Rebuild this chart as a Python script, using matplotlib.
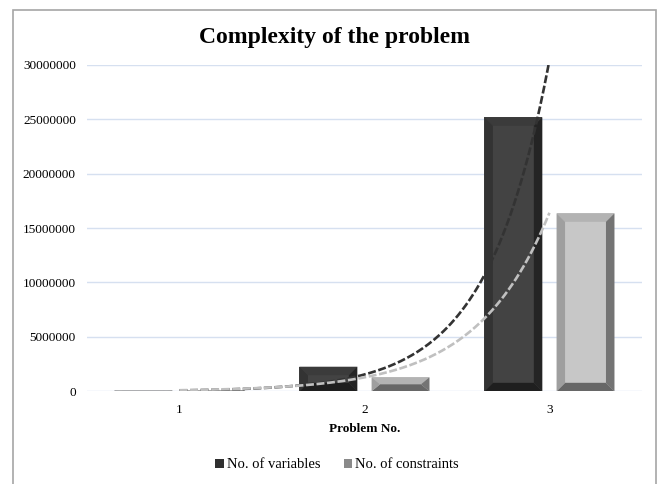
import numpy as np
import matplotlib
matplotlib.use('Agg')
import matplotlib.pyplot as plt
from matplotlib.patches import Polygon, Patch, Rectangle

plt.rcParams['font.family'] = ['Liberation Serif', 'DejaVu Serif']

problems = [1, 2, 3]
tick_labels = ['1', '2', '3']
n_variables = [65000, 2260000, 25170000]
n_constraints = [100000, 1290000, 16350000]

var_colors = dict(face='#434343', top='#3b3b3b', left='#333333', right='#242424', bottom='#1f1f1f')
con_colors = dict(face='#c7c7c7', top='#b3b3b3', left='#9f9f9f', right='#747474', bottom='#676767')

fig = plt.figure(figsize=(6.62, 4.84), dpi=100)
ax = fig.add_axes([0.1314, 0.1915, 0.8383, 0.6748])
ax.set_xlim(0.5, 3.5)
ax.set_ylim(0, 30000000)

# pixel size of the bevel converted to data units
ax_w_px = 0.8383 * 662
ax_h_px = 0.6748 * 484
bev_px = 8.5
bev_x = bev_px * 3.0 / ax_w_px
bev_y = bev_px * 30000000 / ax_h_px


def bevel_bars(xs, heights, width, colors):
    bars = ax.bar(xs, heights, width=width, color=colors['face'], zorder=2)
    for rect in bars:
        x0, y0 = rect.get_x(), rect.get_y()
        x1, y1 = x0 + rect.get_width(), y0 + rect.get_height()
        bx = min(bev_x, (x1 - x0) / 2)
        by = min(bev_y, (y1 - y0) / 2)
        faces = {
            'top': [(x0, y1), (x1, y1), (x1 - bx, y1 - by), (x0 + bx, y1 - by)],
            'bottom': [(x0, y0), (x1, y0), (x1 - bx, y0 + by), (x0 + bx, y0 + by)],
            'left': [(x0, y0), (x0 + bx, y0 + by), (x0 + bx, y1 - by), (x0, y1)],
            'right': [(x1, y0), (x1 - bx, y0 + by), (x1 - bx, y1 - by), (x1, y1)],
        }
        for side, pts in faces.items():
            ax.add_patch(Polygon(pts, closed=True, facecolor=colors[side],
                                 edgecolor='none', zorder=3))


bar_w = 0.313
offset = 0.195
x = np.array(problems, dtype=float)
bevel_bars(x - offset, n_variables, bar_w, var_colors)
bevel_bars(x + offset, n_constraints, bar_w, con_colors)

# exponential trendlines (least squares on log values)
xt = np.linspace(1, 3, 200)
for vals, col in [(n_variables, '#333333'), (n_constraints, '#c0c0c0')]:
    b, a = np.polyfit(x, np.log(vals), 1)
    ax.plot(xt, np.exp(a + b * xt), color=col, lw=1.9,
            linestyle=(0, (3, 1)), zorder=4)

ax.set_yticks(np.arange(0, 30000001, 5000000))
ax.set_yticklabels([str(v) for v in range(0, 30000001, 5000000)], fontsize=9.5)
ax.set_xticks(problems)
ax.set_xticklabels(tick_labels, fontsize=9.5)
ax.tick_params(length=0)
ax.tick_params(axis='y', pad=8)
ax.tick_params(axis='x', pad=9)
ax.grid(axis='y', color='#d6e0f0', lw=1, zorder=0)
ax.set_axisbelow(True)
for s in ax.spines.values():
    s.set_visible(False)
ax.set_xlabel('Problem No.', fontsize=9.5, fontweight='bold', labelpad=5)

fig.text(335 / 662, 1 - 38 / 484, 'Complexity of the problem', ha='center',
         va='center', fontsize=17, fontweight='bold')

handles = [Patch(facecolor='#2f2f2f', edgecolor='none', label='No. of variables'),
           Patch(facecolor='#8a8a8a', edgecolor='none', label='No. of constraints')]
fig.legend(handles=handles, loc='center', bbox_to_anchor=(337 / 662, 1 - 465 / 484),
           ncol=2, frameon=False, fontsize=10.5, handlelength=0.6, handleheight=0.6,
           handletextpad=0.2, columnspacing=1.6)

# chart-area border
fig.add_artist(Rectangle((13 / 662, -0.05), (656 - 13) / 662, 1.05 - 10 / 484,
                         transform=fig.transFigure, fill=False,
                         edgecolor='#a6a6a6', lw=1.2))

fig.savefig('out.png', dpi=100)
